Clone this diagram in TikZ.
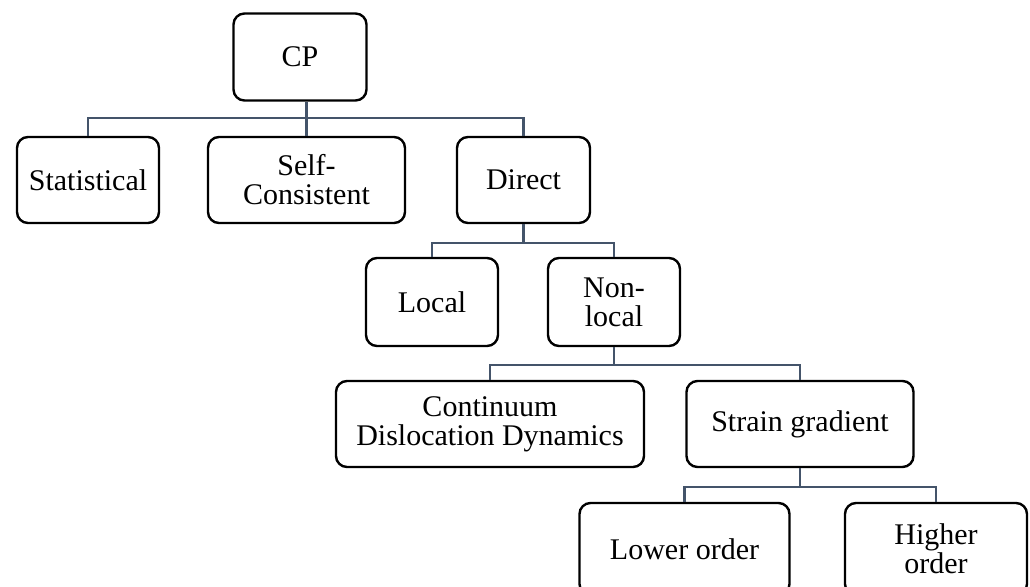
\documentclass[tikz,border=0pt]{standalone}
\usepackage{fontspec}
\setmainfont{Liberation Serif}
\definecolor{conncol}{HTML}{44546A}
\tikzset{
  box/.style={draw=black, line width=2.4pt, rounded corners=11pt, fill=white, align=center,
    font=\fontsize{30}{29}\selectfont, inner sep=2pt, minimum height=86pt},
  conn/.style={draw=conncol, line width=2.6pt}
}
\begin{document}
\begin{tikzpicture}[x=1pt,y=-1pt]
\clip (0,0) rectangle (1030,586);
\fill[white] (0,0) rectangle (1030,586);
\coordinate (b1) at (0,118);
\coordinate (b2) at (0,243);
\coordinate (b3) at (0,365);
\coordinate (b4) at (0,487);
\node[box, minimum width=133pt, minimum height=87pt] (cp) at (300,57) {CP};
\node[box, minimum width=142pt] (stat) at (88,180) {Statistical};
\node[box, minimum width=197pt] (sc) at (306.5,180) {Self-\\Consistent};
\node[box, minimum width=133pt] (direct) at (523.5,180) {Direct};
\node[box, minimum width=132pt, minimum height=88pt] (local) at (432,302) {Local};
\node[box, minimum width=132pt, minimum height=88pt] (nonlocal) at (614,302) {Non-\\local};
\node[box, minimum width=308pt] (cdd) at (490,424) {Continuum\\Dislocation Dynamics};
\node[box, minimum width=227pt] (sg) at (800,424) {Strain gradient};
\node[box, minimum width=210pt, minimum height=92pt] (lo) at (684.5,549) {Lower order};
\node[box, minimum width=182pt, minimum height=92pt] (ho) at (936,549) {Higher\\order};
\draw[conn] (sc.north) -- (sc.north |- cp.south);
\draw[conn] (stat.north) -- (stat.north |- b1) -| (direct.north);
\draw[conn] (direct.south) -- (direct.south |- b2);
\draw[conn] (local.north) -- (local.north |- b2) -| (nonlocal.north);
\draw[conn] (nonlocal.south) -- (nonlocal.south |- b3);
\draw[conn] (cdd.north) -- (cdd.north |- b3) -| (sg.north);
\draw[conn] (sg.south) -- (sg.south |- b4);
\draw[conn] (lo.north) -- (lo.north |- b4) -| (ho.north);
\end{tikzpicture}
\end{document}
